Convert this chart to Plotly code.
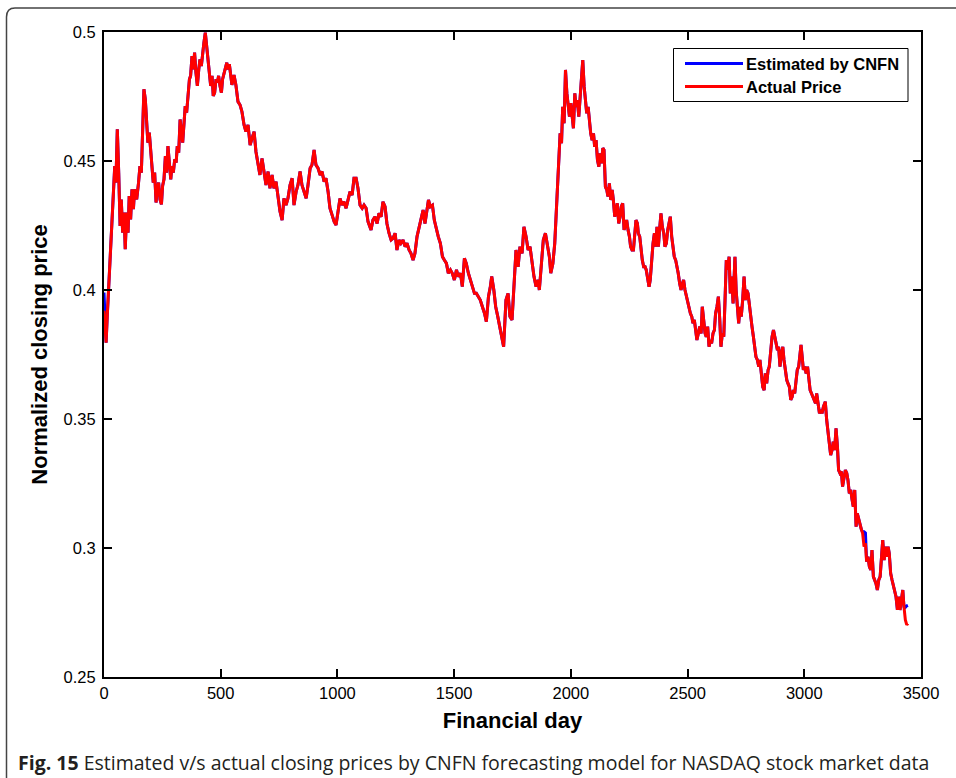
import plotly.graph_objects as go

# Financial day index of each traced sample
days = [0, 9, 14, 20, 29, 34, 40, 46, 51, 57, 63, 69, 74, 80, 86, 91, 97, 103, 108, 114, 120, 126, 131, 140, 148,
        154, 160, 166, 171, 177, 183, 188, 194, 200, 206, 211, 217, 223, 228, 234, 240, 246, 251, 257, 263, 268, 274,
        280, 286, 291, 297, 303, 309, 314, 320, 326, 331, 337, 343, 348, 354, 360, 366, 371, 377, 383, 388, 394, 400,
        406, 411, 417, 423, 428, 434, 440, 446, 451, 457, 463, 468, 474, 480, 486, 491, 497, 503, 508, 514, 520, 526,
        531, 537,
        548, 557, 565, 574, 583, 591, 600, 608, 617, 626, 634, 643, 651, 660, 668, 677, 686, 694, 703, 711, 720, 728,
        737, 746, 754, 763, 771, 780, 788, 797, 806, 814, 823, 831, 840, 848, 857, 866, 874, 883, 891, 900, 908, 917,
        926, 934, 943, 951, 960, 968, 977, 986, 994, 1003, 1011, 1020, 1028, 1037, 1046, 1054, 1063, 1071, 1080, 1088,
        1097, 1106, 1114, 1123, 1131,
        1144, 1152, 1161, 1170, 1178, 1187, 1195, 1204, 1212, 1221, 1230, 1238, 1247, 1255, 1264, 1272, 1281, 1290,
        1298, 1307, 1315, 1324, 1332, 1341, 1350, 1358, 1367, 1375, 1384, 1390, 1398, 1407, 1415, 1424, 1432, 1441,
        1450, 1458, 1467, 1475, 1484, 1492, 1501, 1510, 1518, 1527, 1535, 1544, 1552, 1561, 1570, 1578, 1587, 1595,
        1604, 1612, 1621, 1630, 1638, 1647, 1655, 1661, 1670, 1678, 1687, 1695, 1704, 1712,
        1722, 1731, 1739, 1748, 1757, 1765, 1774, 1782, 1791, 1799, 1808, 1817, 1825, 1834, 1842, 1851, 1860, 1865,
        1874, 1882, 1891, 1900, 1908, 1914, 1923, 1931, 1937, 1943, 1948, 1954, 1960, 1965, 1971, 1977, 1983, 1988,
        1994, 2000, 2005, 2011, 2017, 2022, 2028, 2034, 2040, 2045, 2051, 2057, 2062, 2068, 2074, 2080, 2085, 2091,
        2097, 2102, 2108, 2114, 2120, 2125, 2131, 2137, 2142, 2148, 2154, 2159, 2165, 2171, 2177, 2182, 2188, 2194,
        2199, 2205, 2211, 2216, 2222, 2228, 2234, 2239, 2245, 2251, 2256, 2262, 2268, 2274, 2279, 2285,
        2289, 2295, 2301, 2306, 2312, 2318, 2323, 2329, 2335, 2340, 2346, 2352, 2358, 2363, 2369, 2375, 2380, 2386,
        2392, 2398, 2403, 2409, 2415, 2420, 2426, 2432, 2438, 2443, 2449, 2455, 2460, 2466, 2472, 2478, 2483, 2489,
        2495, 2500, 2506, 2512, 2518, 2523, 2529, 2535, 2540, 2546, 2552, 2558, 2563, 2569, 2575, 2580, 2586, 2592,
        2598, 2603, 2609, 2615, 2620, 2626, 2632, 2638, 2643, 2649, 2655, 2660, 2666, 2672, 2678, 2683, 2689, 2695,
        2700,
        2703, 2708, 2713, 2719, 2725, 2730, 2736, 2742, 2748, 2753, 2759, 2765, 2770, 2776, 2782, 2788, 2793, 2799,
        2805, 2810, 2816, 2822, 2828, 2833, 2839, 2845, 2850, 2856, 2862, 2868, 2873, 2879, 2885, 2890, 2896, 2902,
        2908, 2913, 2919, 2925, 2930, 2936, 2942, 2948, 2953, 2959, 2965, 2970, 2976, 2982, 2986, 2991, 2996, 3002,
        3008, 3014, 3019, 3025, 3031, 3036, 3042, 3048, 3053, 3059, 3065, 3071, 3076, 3082,
        3090, 3096, 3102, 3107, 3113, 3119, 3124, 3130, 3136, 3142, 3147, 3153, 3159, 3164, 3170, 3176, 3182, 3187,
        3193, 3199, 3205, 3210, 3216, 3222, 3227, 3233, 3239, 3245, 3250, 3256, 3262, 3267, 3273, 3279, 3285, 3290,
        3296, 3302, 3307, 3313, 3319, 3325, 3330, 3336, 3342, 3347, 3353, 3359, 3364, 3370, 3376, 3382, 3387, 3393,
        3399, 3404, 3410, 3416, 3422, 3427, 3433, 3439, 3444]

# Actual normalized closing price
actual_price = [0.392, 0.3796, 0.390, 0.4016, 0.4183, 0.4274, 0.4403, 0.448, 0.4416, 0.4623, 0.4455, 0.4248, 0.4351,
        0.4222, 0.430, 0.4158, 0.430, 0.4222, 0.4364, 0.4274, 0.439, 0.4313, 0.439, 0.4351, 0.4416, 0.448, 0.4455,
        0.4597, 0.4778, 0.4739, 0.4636, 0.4571, 0.461, 0.4532, 0.448, 0.4416, 0.4455, 0.4339, 0.439, 0.4416, 0.4351,
        0.4332, 0.4403, 0.4429, 0.4519, 0.4455, 0.4558, 0.4494, 0.4429, 0.448, 0.4455, 0.4506, 0.4494, 0.4558, 0.4532,
        0.4661, 0.461, 0.4571, 0.4649, 0.4713, 0.4687, 0.4765, 0.4817, 0.483, 0.4907, 0.4855, 0.492, 0.4842, 0.4791,
        0.4855, 0.4894, 0.4868, 0.4933, 0.4959, 0.4997, 0.4946, 0.4881, 0.4855, 0.4791, 0.483, 0.4752, 0.4765, 0.4817,
        0.4804, 0.483, 0.4791, 0.4765, 0.4817, 0.4842, 0.4868, 0.4881, 0.4855, 0.4875,
        0.4795, 0.4833, 0.4795, 0.473, 0.4717, 0.4691, 0.464, 0.4614, 0.464, 0.4562, 0.4588, 0.4614, 0.4536, 0.4485,
        0.4446, 0.451, 0.4446, 0.4407, 0.4459, 0.4394, 0.4446, 0.4394, 0.442, 0.4355, 0.4304, 0.4271, 0.4355, 0.4329,
        0.4355, 0.4407, 0.4433, 0.4329, 0.4381, 0.4407, 0.4459, 0.4407, 0.4381, 0.4355, 0.4407, 0.4472, 0.4485, 0.4543,
        0.4485, 0.4472, 0.4446, 0.4459, 0.442, 0.4433, 0.4381, 0.4317, 0.4291, 0.4265, 0.4252, 0.4304, 0.4355, 0.4329,
        0.4342, 0.4317, 0.4355, 0.4381, 0.4368, 0.4433, 0.4433, 0.4394, 0.4329, 0.4317, 0.4329, 0.4317, 0.4265,
        0.4233, 0.4271, 0.4284, 0.4258, 0.4297, 0.4284, 0.4342, 0.4323, 0.4258, 0.422, 0.4194, 0.42, 0.422, 0.4155,
        0.4194, 0.4181, 0.4194, 0.4168, 0.4181, 0.4155, 0.4142, 0.4116, 0.4142, 0.4207, 0.4245, 0.4271, 0.431, 0.4258,
        0.4323, 0.4349, 0.4323, 0.4329, 0.4271, 0.4233, 0.4207, 0.4181, 0.4129, 0.4116, 0.4103, 0.4065, 0.4078,
        0.4065, 0.4039, 0.4078, 0.4052, 0.4065, 0.4013, 0.4123, 0.4103, 0.4065, 0.4039, 0.4013, 0.3987, 0.3987,
        0.3974, 0.3961, 0.3935, 0.391, 0.3877, 0.3974, 0.4013, 0.4052, 0.4, 0.3935, 0.3897, 0.3858, 0.3819, 0.378,
        0.3961, 0.3987, 0.3897, 0.3884, 0.4026, 0.4155, 0.409, 0.4168, 0.4142, 0.4245, 0.4207, 0.4155, 0.4168, 0.4103,
        0.4052, 0.4013, 0.4039, 0.4, 0.409, 0.4194, 0.422, 0.4168, 0.4129, 0.4065, 0.4103, 0.4181, 0.4284, 0.4375,
        0.4478, 0.4607, 0.4569, 0.471, 0.4646, 0.4853, 0.4762, 0.471, 0.4672, 0.4724, 0.4685, 0.4627, 0.4762, 0.471,
        0.4736, 0.4672, 0.4749, 0.4814, 0.4891, 0.4788, 0.4749, 0.4685, 0.471, 0.4646, 0.4607, 0.4581, 0.4607, 0.4555,
        0.4581, 0.4504, 0.4478, 0.453, 0.4491, 0.455, 0.4543, 0.44, 0.4388, 0.4362, 0.4413, 0.4349, 0.4388, 0.4349,
        0.4284, 0.431, 0.4336, 0.4258, 0.4284, 0.4323, 0.4336, 0.4233, 0.4258, 0.4271, 0.4233, 0.4207, 0.4168, 0.4155,
        0.4155, 0.4207, 0.4271, 0.4258,
        0.422, 0.4207, 0.4155, 0.4116, 0.409, 0.409, 0.4078, 0.4039, 0.4013, 0.4039, 0.4129, 0.4181, 0.422, 0.4168,
        0.4245, 0.4168, 0.4233, 0.4297, 0.4245, 0.422, 0.4168, 0.4181, 0.4233, 0.4258, 0.4284, 0.4207, 0.4155, 0.4129,
        0.4116, 0.409, 0.4065, 0.4026, 0.4, 0.4026, 0.4039, 0.4, 0.3974, 0.3948, 0.3922, 0.391, 0.3897, 0.3871, 0.3884,
        0.3845, 0.3806, 0.3832, 0.3858, 0.3832, 0.3935, 0.3884, 0.3832, 0.3819, 0.3858, 0.378, 0.3806, 0.3793, 0.3832,
        0.3845, 0.391, 0.3935, 0.3974, 0.3884, 0.378, 0.3832, 0.3819, 0.3948, 0.4116, 0.4078, 0.4129, 0.3987, 0.4052,
        0.3948, 0.409,
        0.4129, 0.4, 0.3935, 0.3871, 0.3935, 0.3897, 0.3961, 0.4052, 0.3961, 0.4, 0.3987, 0.3935, 0.391, 0.3858,
        0.3819, 0.378, 0.3741, 0.3729, 0.3703, 0.3729, 0.3664, 0.3625, 0.3612, 0.3677, 0.3638, 0.369, 0.3703, 0.3767,
        0.3819, 0.3845, 0.3819, 0.3793, 0.3767, 0.378, 0.3703, 0.3755, 0.378, 0.3729, 0.3677, 0.3651, 0.3638, 0.3625,
        0.3574, 0.3586, 0.3612, 0.3599, 0.3651, 0.369, 0.3703, 0.3755, 0.3787, 0.3741, 0.369, 0.3703, 0.3677, 0.3703,
        0.3651, 0.3612, 0.3599, 0.3586, 0.3574, 0.3561, 0.3599, 0.3561, 0.3522, 0.3535, 0.3522, 0.3548,
        0.3567, 0.3496, 0.3445, 0.3419, 0.336, 0.338, 0.3412, 0.338, 0.3464, 0.3393, 0.3302, 0.329, 0.3296, 0.3238,
        0.3276, 0.3302, 0.329, 0.3264, 0.3212, 0.3225, 0.3186, 0.316, 0.3225, 0.3083, 0.3134, 0.3109, 0.3083, 0.307,
        0.3057, 0.3005, 0.3018, 0.2947, 0.2966, 0.2927, 0.2915, 0.2992, 0.2889, 0.2876, 0.2863, 0.2837, 0.2876, 0.2889,
        0.2947, 0.3031, 0.2953, 0.3005, 0.2966, 0.3005, 0.2979, 0.2902, 0.2876, 0.285, 0.2824, 0.2811, 0.276, 0.2811,
        0.276, 0.2798, 0.2837, 0.2773, 0.2721, 0.2702, 0.2708]

# Estimated price (CNFN) coincides with the actual price except at these days
estimated_differs = {0: 0.399, 3250: 0.3063, 3256: 0.3063, 3262: 0.3058, 3433: 0.2770, 3439: 0.2776, 3444: 0.2778}
estimated_price = [estimated_differs.get(d, a) for d, a in zip(days, actual_price)]

x_ticks = [0, 500, 1000, 1500, 2000, 2500, 3000, 3500]
y_ticks = [0.25, 0.3, 0.35, 0.4, 0.45, 0.5]
y_tick_text = ["0.25", "0.3", "0.35", "0.4", "0.45", "0.5"]

legend_names = ["Estimated by CNFN", "Actual Price"]
caption = "<b>Fig. 15</b> Estimated v/s actual closing prices by CNFN forecasting model for NASDAQ stock market data"

W, H = 956, 778
L, R, T, B = 104, 921, 32, 677  # plot area in pixels
FONT = "Liberation Sans, Arial, Helvetica"


def px(x):
    return (x - L) / (R - L)


def py(y):
    return (B - y) / (B - T)


fig = go.Figure()
fig.add_trace(go.Scatter(x=days, y=estimated_price, mode="lines", name=legend_names[0],
                         line=dict(color="#0000ff", width=3), showlegend=False))
fig.add_trace(go.Scatter(x=days, y=actual_price, mode="lines", name=legend_names[1],
                         line=dict(color="#ff0000", width=3), showlegend=False))

axis_common = dict(showline=True, linecolor="black", linewidth=2, mirror="ticks", ticks="inside",
                   ticklen=8, tickwidth=1.5, tickcolor="black", showgrid=False, zeroline=False,
                   tickfont=dict(family=FONT, size=16.5, color="black"))

fig.update_xaxes(range=[0, 3500], tickvals=x_ticks, ticktext=[str(v) for v in x_ticks],
                 title=dict(text="<b>Financial day</b>", font=dict(family=FONT, size=22, color="black"),
                            standoff=12),
                 **axis_common)
fig.update_yaxes(range=[0.25, 0.5], tickvals=y_ticks, ticktext=y_tick_text, ticklabelstandoff=3,
                 title=dict(text="<b>Normalized closing price</b>", font=dict(family=FONT, size=22, color="black"),
                            standoff=10),
                 **axis_common)

shapes = []
# outer frame of the figure panel (rounded top-left corner)
shapes.append(dict(type="path", xref="paper", yref="paper",
                   path=f"M {px(6.5)},{py(790)} L {px(6.5)},{py(17)} Q {px(6.5)},{py(8)} {px(15)},{py(8)} L {px(960)},{py(8)}",
                   line=dict(color="#444444", width=1.5)))
# legend box
shapes.append(dict(type="rect", xref="paper", yref="paper", x0=px(673.5), x1=px(908), y0=py(101.5), y1=py(48.5),
                   line=dict(color="black", width=1), fillcolor="white"))
shapes.append(dict(type="line", xref="paper", yref="paper", x0=px(685), x1=px(743), y0=py(63.5), y1=py(63.5),
                   line=dict(color="#0000ff", width=3)))
shapes.append(dict(type="line", xref="paper", yref="paper", x0=px(685), x1=px(743), y0=py(86.5), y1=py(86.5),
                   line=dict(color="#ff0000", width=3)))

annotations = [
    dict(text=f"<b>{legend_names[0]}</b>", xref="paper", yref="paper", x=px(744), y=py(64),
         xanchor="left", yanchor="middle", showarrow=False,
         font=dict(family=FONT, size=16.5, color="black")),
    dict(text=f"<b>{legend_names[1]}</b>", xref="paper", yref="paper", x=px(744), y=py(87),
         xanchor="left", yanchor="middle", showarrow=False,
         font=dict(family=FONT, size=16.5, color="black")),
    dict(text=caption, xref="paper", yref="paper", x=px(16), y=py(762), xanchor="left", yanchor="middle",
         showarrow=False, font=dict(family="Open Sans, Noto Sans", size=19.5, color="#231f20")),
]

fig.update_layout(width=W, height=H, margin=dict(l=L, r=W - R, t=T, b=H - B, pad=0),
                  paper_bgcolor="white", plot_bgcolor="white", shapes=shapes, annotations=annotations,
                  showlegend=False)

fig.write_html("out.html", config={"displayModeBar": False},
               post_script="document.body.style.margin='0';document.body.style.overflow='hidden';")
